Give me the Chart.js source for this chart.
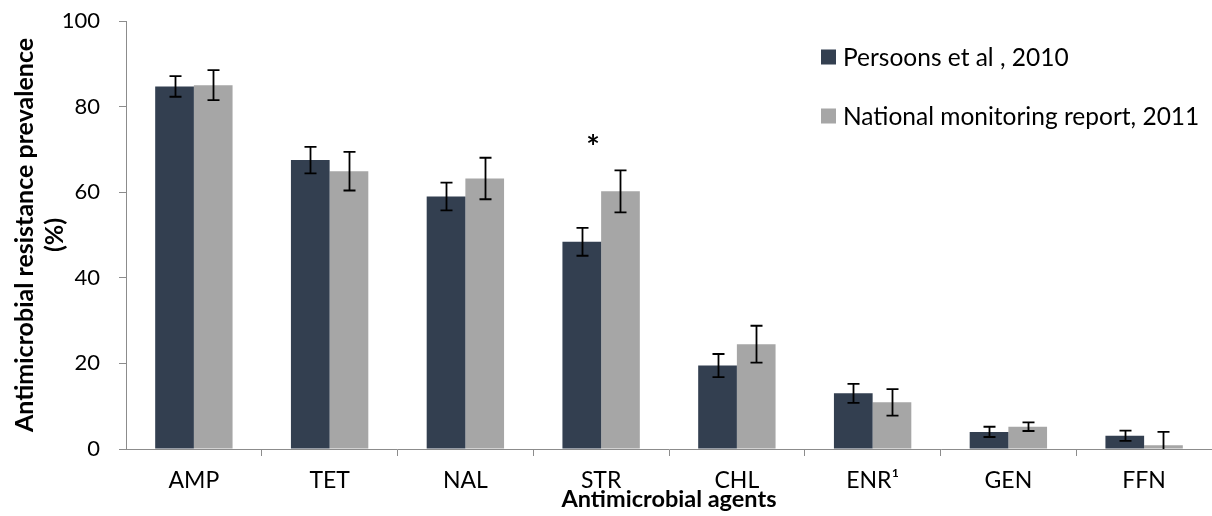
<!DOCTYPE html>
<html>
<head>
<meta charset="utf-8">
<script src="https://cdn.jsdelivr.net/npm/chart.js@4"></script>
<style>
  html, body { margin: 0; padding: 0; background: #ffffff; }
  #wrap { width: 1212px; height: 516px; }
</style>
</head>
<body>
<div id="wrap"><canvas id="chart" width="1212" height="516"></canvas></div>
<script>
// Antimicrobial agents tested
const categories = ['AMP', 'TET', 'NAL', 'STR', 'CHL', 'ENR\u00B9', 'GEN', 'FFN'];

// Resistance prevalence (%) per source
const persoons2010 = [84.7, 67.5, 59.0, 48.4, 19.5, 13.0, 4.0, 3.1];
const national2011 = [85.0, 64.9, 63.2, 60.2, 24.5, 10.9, 5.2, 0.9];

// Half-width of the confidence interval (%)
const persoons2010Err = [2.4, 3.1, 3.25, 3.25, 2.7, 2.2, 1.2, 1.2];
const national2011Err = [3.5, 4.5, 4.85, 4.9, 4.3, 3.1, 1.0, 3.1];

// Significant difference marker
const markCategory = 'STR';
const markValue = 71.0;

// Y axis ticks
const yTicks = [0, 20, 40, 60, 80, 100];

const seriesLabels = ['Persoons et al , 2010', 'National monitoring report, 2011'];
const seriesColors = ['#333F50', '#A6A6A6'];
const errors = [persoons2010Err, national2011Err];

const FONT = 'Lato, "Open Sans", sans-serif';
const AXIS_COLOR = '#8C8C8C';

const errorBars = {
  id: 'errorBars',
  afterDatasetsDraw(chart) {
    const ctx = chart.ctx;
    const y = chart.scales.y;
    ctx.save();
    ctx.strokeStyle = '#000000';
    ctx.lineWidth = 1.8;
    chart.data.datasets.forEach((ds, i) => {
      const meta = chart.getDatasetMeta(i);
      meta.data.forEach((bar, j) => {
        const v = ds.data[j];
        const e = errors[i][j];
        const hi = y.getPixelForValue(v + e);
        const loVal = v - e;
        const lo = y.getPixelForValue(Math.max(loVal, 0));
        const x = Math.round(bar.x) + 0.5;
        ctx.beginPath();
        ctx.moveTo(x, hi);
        ctx.lineTo(x, lo);
        ctx.moveTo(x - 6, hi);
        ctx.lineTo(x + 6, hi);
        if (loVal >= 0) {
          ctx.moveTo(x - 6, lo);
          ctx.lineTo(x + 6, lo);
        }
        ctx.stroke();
      });
    });
    ctx.restore();
  }
};

const marker = {
  id: 'marker',
  afterDatasetsDraw(chart) {
    const ctx = chart.ctx;
    const xs = chart.scales.x, ys = chart.scales.y;
    const idx = categories.indexOf(markCategory);
    ctx.save();
    ctx.fillStyle = '#000000';
    ctx.font = 'bold 32px ' + FONT;
    ctx.textAlign = 'center';
    ctx.textBaseline = 'middle';
    ctx.fillText('*', xs.getPixelForValue(idx) - 8, ys.getPixelForValue(markValue) + 4);
    ctx.restore();
  }
};

const sideLegend = {
  id: 'sideLegend',
  afterDraw(chart) {
    const ctx = chart.ctx;
    ctx.save();
    ctx.font = '24.5px ' + FONT;
    ctx.textBaseline = 'middle';
    ctx.textAlign = 'left';
    chart.data.datasets.forEach((ds, i) => {
      const cy = 57 + i * 59;
      ctx.fillStyle = ds.backgroundColor;
      ctx.fillRect(821, cy - 7.5, 15, 15);
      ctx.fillStyle = '#000000';
      ctx.fillText(ds.label, 843, cy + 1);
    });
    ctx.restore();
  }
};

new Chart(document.getElementById('chart'), {
  type: 'bar',
  data: {
    labels: categories,
    datasets: [
      { label: seriesLabels[0], data: persoons2010, backgroundColor: seriesColors[0] },
      { label: seriesLabels[1], data: national2011, backgroundColor: seriesColors[1] }
    ]
  },
  options: {
    responsive: false,
    animation: false,
    devicePixelRatio: 1,
    categoryPercentage: 0.57,
    barPercentage: 1.0,
    layout: { padding: { top: 21, right: 0, bottom: 0, left: 0 } },
    plugins: {
      legend: { display: false },
      tooltip: { enabled: false }
    },
    scales: {
      x: {
        grid: {
          display: true,
          drawOnChartArea: false,
          tickLength: 7,
          color: AXIS_COLOR,
          tickColor: (c) => (c.index === 0 ? 'rgba(0,0,0,0)' : AXIS_COLOR)
        },
        border: { display: true, color: AXIS_COLOR, width: 1 },
        ticks: { color: '#000000', font: { family: FONT, size: 23 }, padding: 11, maxRotation: 0 },
        title: {
          display: true,
          text: 'Antimicrobial agents',
          color: '#000000',
          font: { family: FONT, size: 23.5, weight: 'bold', lineHeight: 1.2 },
          padding: { top: 0, bottom: 2 }
        },
        afterFit(scale) {
          scale.height = 67;
          scale.paddingLeft = 0;
          scale.paddingRight = 0;
        }
      },
      y: {
        min: 0,
        max: 100,
        afterBuildTicks(scale) { scale.ticks = yTicks.map(v => ({ value: v })); },
        grid: {
          display: true,
          drawOnChartArea: false,
          tickLength: 7,
          color: AXIS_COLOR
        },
        border: { display: true, color: AXIS_COLOR, width: 1 },
        ticks: { color: '#000000', font: { family: FONT, size: 22 }, padding: 19 },
        title: {
          display: true,
          text: ['Antimicrobial resistance prevalence', '(%)'],
          color: '#000000',
          font: { family: FONT, size: 25, weight: 'bold', lineHeight: 1.2 },
          padding: { top: 10, bottom: 0 }
        },
        afterFit(scale) {
          scale.width = 126;
          scale.paddingTop = 0;
          scale.paddingBottom = 0;
        }
      }
    }
  },
  plugins: [errorBars, marker, sideLegend]
});
</script>
</body>
</html>
